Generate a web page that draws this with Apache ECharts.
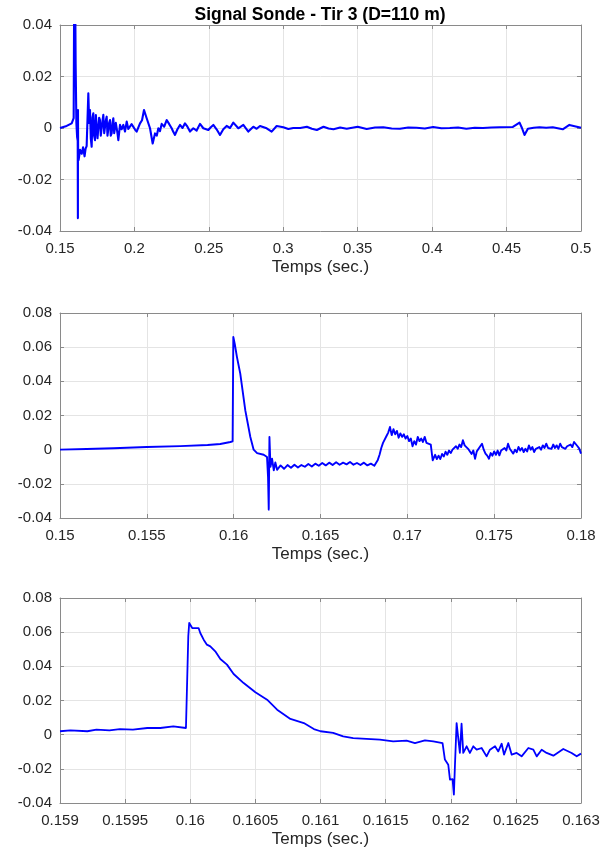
<!DOCTYPE html>
<html>
<head>
<meta charset="utf-8">
<script src="https://cdn.jsdelivr.net/npm/echarts@6/dist/echarts.min.js"></script>
<style>
html,body{margin:0;padding:0;background:#fff;}
#chart{width:609px;height:850px;}
</style>
</head>
<body>
<div id="chart"></div>
<script>
// ---- data ----
const titleText = 'Signal Sonde - Tir 3 (D=110 m)';
const xLabel = 'Temps (sec.)';

// subplot 1 : whole record 0.15 -> 0.5 s
const t1 = [0.15,0.15448,0.15784,0.15918,0.15963,0.1601,0.1605,0.161,0.1615,0.1619,0.16202,0.16208,0.1622,0.1625,0.1635,0.1646,0.1655,0.1665,0.1672,0.1679,
  0.16903,0.1696,0.17015,0.1707,0.17127,0.1718,0.17239,0.1729,0.17351,0.1741,0.17463,0.1752,0.17575,0.1763,0.17687,0.1774,0.178,0.1786,0.17911,0.1797,0.18023,
  0.1808,0.18135,0.1819,0.18247,0.1830,0.18359,0.1841,0.18471,0.1853,0.18583,0.1864,0.18695,0.1875,0.18807,0.1886,0.18919,
  0.19031,0.1914,0.19255,0.19367,0.19479,0.1959,0.19703,0.1981,0.19927,0.2004,0.20151,0.20375,0.2051,0.20644,0.20823,0.21047,0.21226,0.21383,0.2150,0.21607,0.2172,0.2183,0.2200,0.22166,0.22278,0.2239,0.22502,0.2261,0.22725,
  0.2289,0.23061,0.2323,0.23397,0.2356,0.23733,0.23957,0.2418,0.24405,0.24628,0.24964,0.2513,0.253,0.2552,0.25748,0.2597,0.26195,0.2642,0.26643,0.26979,0.27315,0.27651,0.27987,0.2821,0.28435,0.28883,0.29219,0.29555,
  0.30003,0.3034,0.3067,0.31138,0.31585,0.3192,0.32254,0.32701,0.3304,0.33371,0.3382,0.34263,0.35,0.35603,0.3616,0.36719,0.3728,0.37835,0.3839,0.38951,0.3951,0.40067,0.4062,0.41183,0.4174,0.42299,0.4286,0.43415,0.4397,0.44531,0.45424,
  0.45871,0.46027,0.46205,0.4643,0.4682,0.47211,0.4766,0.48103,0.48772,0.49219,0.5];
const v1 = [0,0.0008,0.0018,0.0038,0.066,0.062,0.025,0.002,-0.0035,-0.005,-0.035,0.007,-0.011,-0.0125,-0.0085,-0.010,-0.0075,-0.011,-0.008,-0.007,
  0.0135,0.002,0.0070,-0.004,-0.0073,0.004,0.0057,-0.003,-0.0047,0.005,0.0044,-0.004,-0.0034,0.004,0.0031,-0.003,-0.0027,0.003,0.0051,-0.002,-0.0021,
  0.003,0.0044,-0.003,-0.0027,0.002,0.0031,-0.003,-0.0021,0.002,0.0038,-0.002,-0.0014,0.002,0.0018,-0.002,-0.0047,
  0.0012,-0.0005,0.0012,-0.0014,0.0025,-0.0004,-0.0008,0.0015,0.0012,-0.0006,-0.0014,0.0018,0.0030,0.0070,0.0038,-0.0001,-0.0060,-0.0021,-0.0030,-0.0001,-0.0012,0.0016,0.0005,0.0031,0.0021,0.0010,-0.0001,-0.0015,-0.0027,
  -0.0005,0.0012,0.0000,0.0018,0.0005,-0.0014,-0.0001,-0.0010,0.0016,-0.0001,-0.0008,0.0003,0.0012,-0.0005,-0.0027,-0.0005,0.0008,0.0000,0.0021,-0.0001,0.0012,-0.0014,0.0005,-0.0003,0.0008,-0.0001,-0.0014,0.0008,
  0.0003,-0.0004,0,0,0.0005,-0.0003,-0.0008,0.0005,-0.0002,-0.0005,0.0002,-0.0003,0.0005,-0.0004,0.0002,0.0003,-0.0002,-0.0003,0.0002,0.0001,-0.0002,0.0004,-0.0001,0,0.0002,-0.0003,0.0001,0,0.0002,0.0003,0.0004,
  0.0021,0.0001,-0.0027,-0.0003,0.0001,0.0003,0.0001,0.0003,-0.0005,0.0012,0.0001];

// subplot 2 : 0.15 -> 0.18 s
const t2 = [0.15,0.15154,0.15308,0.155,0.15692,0.1585,0.15923,0.15981,0.15994,0.15998,0.16006,0.16019,0.16038,0.16067,0.16096,0.16115,0.16135,0.16173,
  0.16192,0.16198,0.16202,0.16206,0.16212,0.16221,0.16231,0.1624,0.1625,
  0.1627,0.1629,0.1631,0.1633,0.1635,0.1637,0.1639,0.1641,0.1643,0.1645,0.1647,0.1649,0.1651,0.1653,0.1655,0.1657,0.1659,0.1661,0.1663,0.1665,0.1667,0.1669,0.1671,0.1673,0.1675,0.1677,0.1679,0.1681,
  0.1683,0.1684,0.1685,0.1686,0.1687,0.1688,0.1689,0.169,0.1691,0.1692,0.1693,0.1694,0.1695,0.1696,0.1697,0.1698,0.1699,0.17,
  0.1701,0.1702,0.1703,0.1704,0.1705,0.1706,0.1707,0.1708,0.1709,0.171,0.1711,0.1712,0.17135,0.17146,0.1716,0.1717,0.1718,0.1719,0.172,
  0.1721,0.1722,0.1723,0.1724,0.1725,0.1726,0.1727,0.1728,0.1729,0.173,0.1731,0.1732,0.1733,0.1734,0.1735,0.1736,0.1737,0.1738,0.1739,0.174,
  0.1741,0.1742,0.1743,0.1744,0.1745,0.1746,0.1747,0.1748,0.1749,0.175,0.1751,0.1752,0.1753,0.1754,0.1755,0.1756,0.1757,0.1758,0.1759,0.176,
  0.1761,0.1762,0.1763,0.1764,0.1765,0.1766,0.1767,0.1768,0.1769,0.177,0.1771,0.1772,0.1773,0.1774,0.1775,0.1776,0.1777,0.1778,0.1779,0.178,
  0.1781,0.1782,0.1783,0.1784,0.1785,0.1786,0.1787,0.1788,0.1789,0.179,0.1791,0.1792,0.1793,0.1794,0.1795,0.1796,0.1797,0.1798,0.1799,0.18];
const v2 = [0,0.0004,0.0008,0.0016,0.0021,0.0027,0.0033,0.0045,0.0049,0.066,0.062,0.0542,0.0445,0.0230,0.0074,0,-0.002,-0.003,
  -0.0043,-0.016,-0.0351,0.0074,-0.0101,-0.0053,-0.0121,-0.0075,-0.0118,
  -0.0092,-0.0112,-0.0090,-0.0106,-0.0088,-0.0104,-0.0090,-0.0100,-0.0084,-0.0098,-0.0082,-0.0094,-0.0078,-0.0092,-0.0076,-0.0090,-0.0074,-0.0088,-0.0076,-0.0086,-0.0072,-0.0088,-0.0078,-0.0090,-0.0076,-0.0092,-0.0082,-0.0094,
  -0.0060,-0.0030,0.0010,0.0040,0.0030,0.0080,0.0100,0.0133,0.0085,0.0120,0.0090,0.0110,0.0070,0.0095,0.0075,0.0090,0.0065,0.0080,
  0.0050,0.0065,0.0020,0.0050,0.0030,0.0075,0.0050,0.0065,0.0045,0.0075,0.0040,0.0045,0.0030,-0.0062,-0.0030,-0.0055,-0.0035,-0.0055,-0.0025,
  -0.0040,-0.0012,-0.0030,-0.0005,-0.0020,0.0000,-0.0010,0.0020,0.0005,0.0030,0.0015,0.0055,0.0025,0.0035,0.0005,0.0010,-0.0025,-0.0005,-0.0053,-0.0010,
  -0.0020,0.0020,0.0035,0.0000,-0.0023,-0.0035,-0.0053,-0.0020,-0.0035,-0.0010,-0.0030,-0.0005,-0.0033,-0.0005,-0.0015,0.0010,-0.0005,0.0035,0.0005,0.0015,
  -0.0023,0.0000,-0.0015,0.0016,-0.0005,0.0010,-0.0014,0.0005,-0.0010,0.0025,0.0000,0.0015,-0.0014,0.0005,-0.0005,0.0015,0.0000,0.0025,0.0010,0.0035,
  0.0010,0.0020,0.0005,0.0030,0.0010,0.0025,0.0005,0.0035,0.0015,0.0025,0.0005,0.0020,0.0010,0.0030,0.0015,0.0045,0.0051,0.0020,0.0006,-0.0023];

// subplot 3 : 0.159 -> 0.163 s
const t3 = [0.159,0.15908,0.15921,0.15928,0.15938,0.15946,0.15956,0.15967,0.15977,0.15987,0.159967,0.159974,0.159985,0.159992,0.160005,0.160015,
  0.160064,0.160077,0.160103,0.160128,0.160154,0.160192,0.160231,0.160282,0.160333,0.16041,0.1605,0.16059,0.160667,0.160769,0.160872,0.160949,
  0.161,0.161097,0.161174,0.161251,0.161353,0.161456,0.161558,0.161661,0.161725,0.161802,0.161866,0.161937,0.161955,0.161981,0.161994,0.162014,
  0.162024,0.162032,0.162045,0.162058,0.16207,0.162083,0.162096,0.162122,0.162147,0.162173,0.162199,0.162237,0.162275,0.162301,0.16234,0.162365,
  0.162391,0.162409,0.162442,0.162468,0.162506,0.162544,0.162596,0.162634,0.16266,0.162698,0.162736,0.162788,0.162864,0.162928,0.162967,0.163];
const v3 = [0.002,0.0025,0.002,0.0029,0.0025,0.0033,0.0029,0.0039,0.0039,0.0049,0.0039,0.0049,0.0576,0.0654,0.0658,0.0624,
  0.0624,0.0595,0.0556,0.0527,0.0517,0.0488,0.0443,0.041,0.0355,0.0302,0.0248,0.0205,0.0146,0.0092,0.0068,0.0033,
  0.002,0.001,-0.001,-0.002,-0.0025,-0.0029,-0.0039,-0.0035,-0.0049,-0.0033,-0.0039,-0.0049,-0.0146,-0.0176,-0.0263,-0.026,
  -0.0351,-0.0185,0.0068,0.0059,-0.0107,0.0064,-0.0107,-0.0068,-0.0107,-0.0068,-0.0088,-0.0078,-0.0127,-0.0088,-0.0068,-0.0098,
  -0.0053,-0.0117,-0.0049,-0.0117,-0.0107,-0.0127,-0.0078,-0.0088,-0.0127,-0.0088,-0.0107,-0.0123,-0.0084,-0.0107,-0.0127,-0.0111];

// axis ranges
const xRanges = [[0.15,0.5,0.05],[0.15,0.18,0.005],[0.159,0.163,0.0005]];
const yRanges = [[-0.04,0.04,0.02],[-0.04,0.08,0.02],[-0.04,0.08,0.02]];

// ---- chart ----
const chart = echarts.init(document.getElementById('chart'), null, {renderer:'canvas'});
const FONT = '"Liberation Sans", Arial, Helvetica, sans-serif';
const AXIS_COLOR = '#8a8a8a';
const GRID_COLOR = '#e4e4e4';
const fmt = v => String(+(+v).toFixed(6));
const lineWidths = [2.1, 1.9, 1.8];

const grids = [
  {left:60, right:28, top:25, height:206},
  {left:60, right:28, top:313, height:205},
  {left:60, right:28, top:598, height:205}
];
const xAxes = [], yAxes = [], series = [];
const datasets = [[t1,v1],[t2,v2],[t3,v3]];
for (let i=0;i<3;i++){
  const [xmin,xmax,xi] = xRanges[i];
  const [ymin,ymax,yi] = yRanges[i];
  xAxes.push({
    type:'value', gridIndex:i, min:xmin, max:xmax, interval:xi, position:'bottom',
    axisLine:{show:true, onZero:false, lineStyle:{color:AXIS_COLOR, width:1}},
    axisTick:{show:true, inside:true, length:4, lineStyle:{color:AXIS_COLOR}},
    axisLabel:{show:true, margin:10, color:'#262626', fontSize:15, fontFamily:FONT, formatter:fmt, hideOverlap:false, showMinLabel:true, showMaxLabel:true},
    splitLine:{show:true, lineStyle:{color:GRID_COLOR, width:1}},
    name:xLabel, nameLocation:'middle', nameGap:28,
    nameTextStyle:{color:'#262626', fontSize:17, fontFamily:FONT}
  });
  xAxes.push({
    type:'value', gridIndex:i, min:xmin, max:xmax, interval:xi, position:'top',
    axisLine:{show:true, onZero:false, lineStyle:{color:AXIS_COLOR, width:1}},
    axisTick:{show:true, inside:true, length:4, lineStyle:{color:AXIS_COLOR}},
    axisLabel:{show:false}, splitLine:{show:false}
  });
  yAxes.push({
    type:'value', gridIndex:i, min:ymin, max:ymax, interval:yi, position:'left',
    axisLine:{show:true, onZero:false, lineStyle:{color:AXIS_COLOR, width:1}},
    axisTick:{show:true, inside:true, length:4, lineStyle:{color:AXIS_COLOR}},
    axisLabel:{show:true, margin:8, color:'#262626', fontSize:15, fontFamily:FONT, formatter:fmt, showMinLabel:true, showMaxLabel:true},
    splitLine:{show:true, lineStyle:{color:GRID_COLOR, width:1}}
  });
  yAxes.push({
    type:'value', gridIndex:i, min:ymin, max:ymax, interval:yi, position:'right',
    axisLine:{show:true, onZero:false, lineStyle:{color:AXIS_COLOR, width:1}},
    axisTick:{show:true, inside:true, length:4, lineStyle:{color:AXIS_COLOR}},
    axisLabel:{show:false}, splitLine:{show:false}
  });
  const [tx,vy] = datasets[i];
  series.push({
    type:'line', xAxisIndex:2*i, yAxisIndex:2*i, showSymbol:false, symbol:'none',
    data: tx.map((t,k)=>[t, vy[k]]),
    lineStyle:{color:'#0000ff', width:lineWidths[i], join:'round'}, clip:true, animation:false, silent:true
  });
}

chart.setOption({
  animation:false,
  backgroundColor:'#ffffff',
  graphic:[{
    type:'text', x:320, y:15, silent:true,
    style:{text:titleText, align:'center', verticalAlign:'middle', fill:'#000',
      font:'bold 17.5px "Liberation Sans", Arial, Helvetica, sans-serif'}
  }],
  grid:grids, xAxis:xAxes, yAxis:yAxes, series:series
});
</script>
</body>
</html>
